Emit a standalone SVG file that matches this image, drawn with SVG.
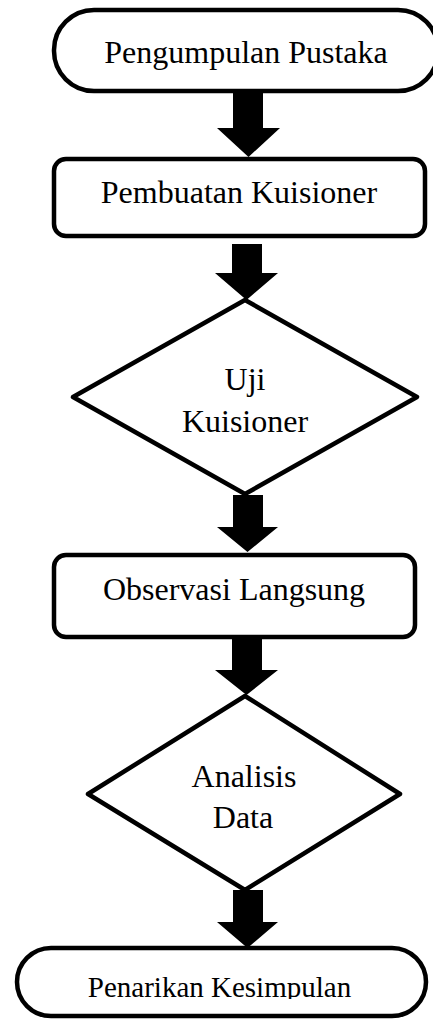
<svg xmlns="http://www.w3.org/2000/svg" width="433" height="1020" viewBox="0 0 433 1020">
<style>
.shape{fill:#fff;stroke:#000;stroke-width:4.5;stroke-linejoin:round}
.lbl{font-family:"Liberation Serif","Times New Roman",serif;font-size:32px;fill:#000;text-anchor:middle}
.arrow{fill:#000;stroke:none}
</style>
<defs>
<clipPath id="clipLast"><rect x="0" y="940" width="433" height="59"/></clipPath>
</defs>
<rect width="433" height="1020" fill="#fff"/>
<g id="n1">
<rect class="shape" x="54" y="10" width="384" height="81" rx="40" ry="40"/>
<text class="lbl" x="246" y="63">Pengumpulan Pustaka</text>
</g>
<g id="n2">
<rect class="shape" x="54" y="159" width="371" height="77" rx="12" ry="12"/>
<text class="lbl" x="239" y="203">Pembuatan Kuisioner</text>
</g>
<g id="n3">
<polygon class="shape" points="245,300 417,397 245,494 73,397"/>
<text class="lbl" x="245" y="390">Uji</text>
<text class="lbl" x="245" y="432">Kuisioner</text>
</g>
<g id="n4">
<rect class="shape" x="54" y="555" width="361" height="82" rx="12" ry="12"/>
<text class="lbl" x="234" y="600">Observasi Langsung</text>
</g>
<g id="n5">
<polygon class="shape" points="245,696 400,794 245,890 88,794"/>
<text class="lbl" x="244" y="787">Analisis</text>
<text class="lbl" x="243" y="828">Data</text>
</g>
<g id="n6">
<rect class="shape" x="17" y="948" width="409" height="68" rx="34" ry="34"/>
<text class="lbl" x="219.5" y="997" style="font-size:29px" clip-path="url(#clipLast)">Penarikan Kesimpulan</text>
</g>
<g id="connectors">
<polygon class="arrow" points="233,92 263,92 263,128 280,128 248.5,157 217,128 233,128"/>
<polygon class="arrow" points="232,244 262,244 262,273 278,273 246.5,300 215,273 232,273"/>
<polygon class="arrow" points="233,495 263,495 263,527 278,527 247.5,552 217,527 233,527"/>
<polygon class="arrow" points="232,639 262,639 262,670 278,670 246.5,695 215,670 232,670"/>
<polygon class="arrow" points="233,890 263,890 263,922 278,922 247.5,948 217,922 233,922"/>
</g>
</svg>
